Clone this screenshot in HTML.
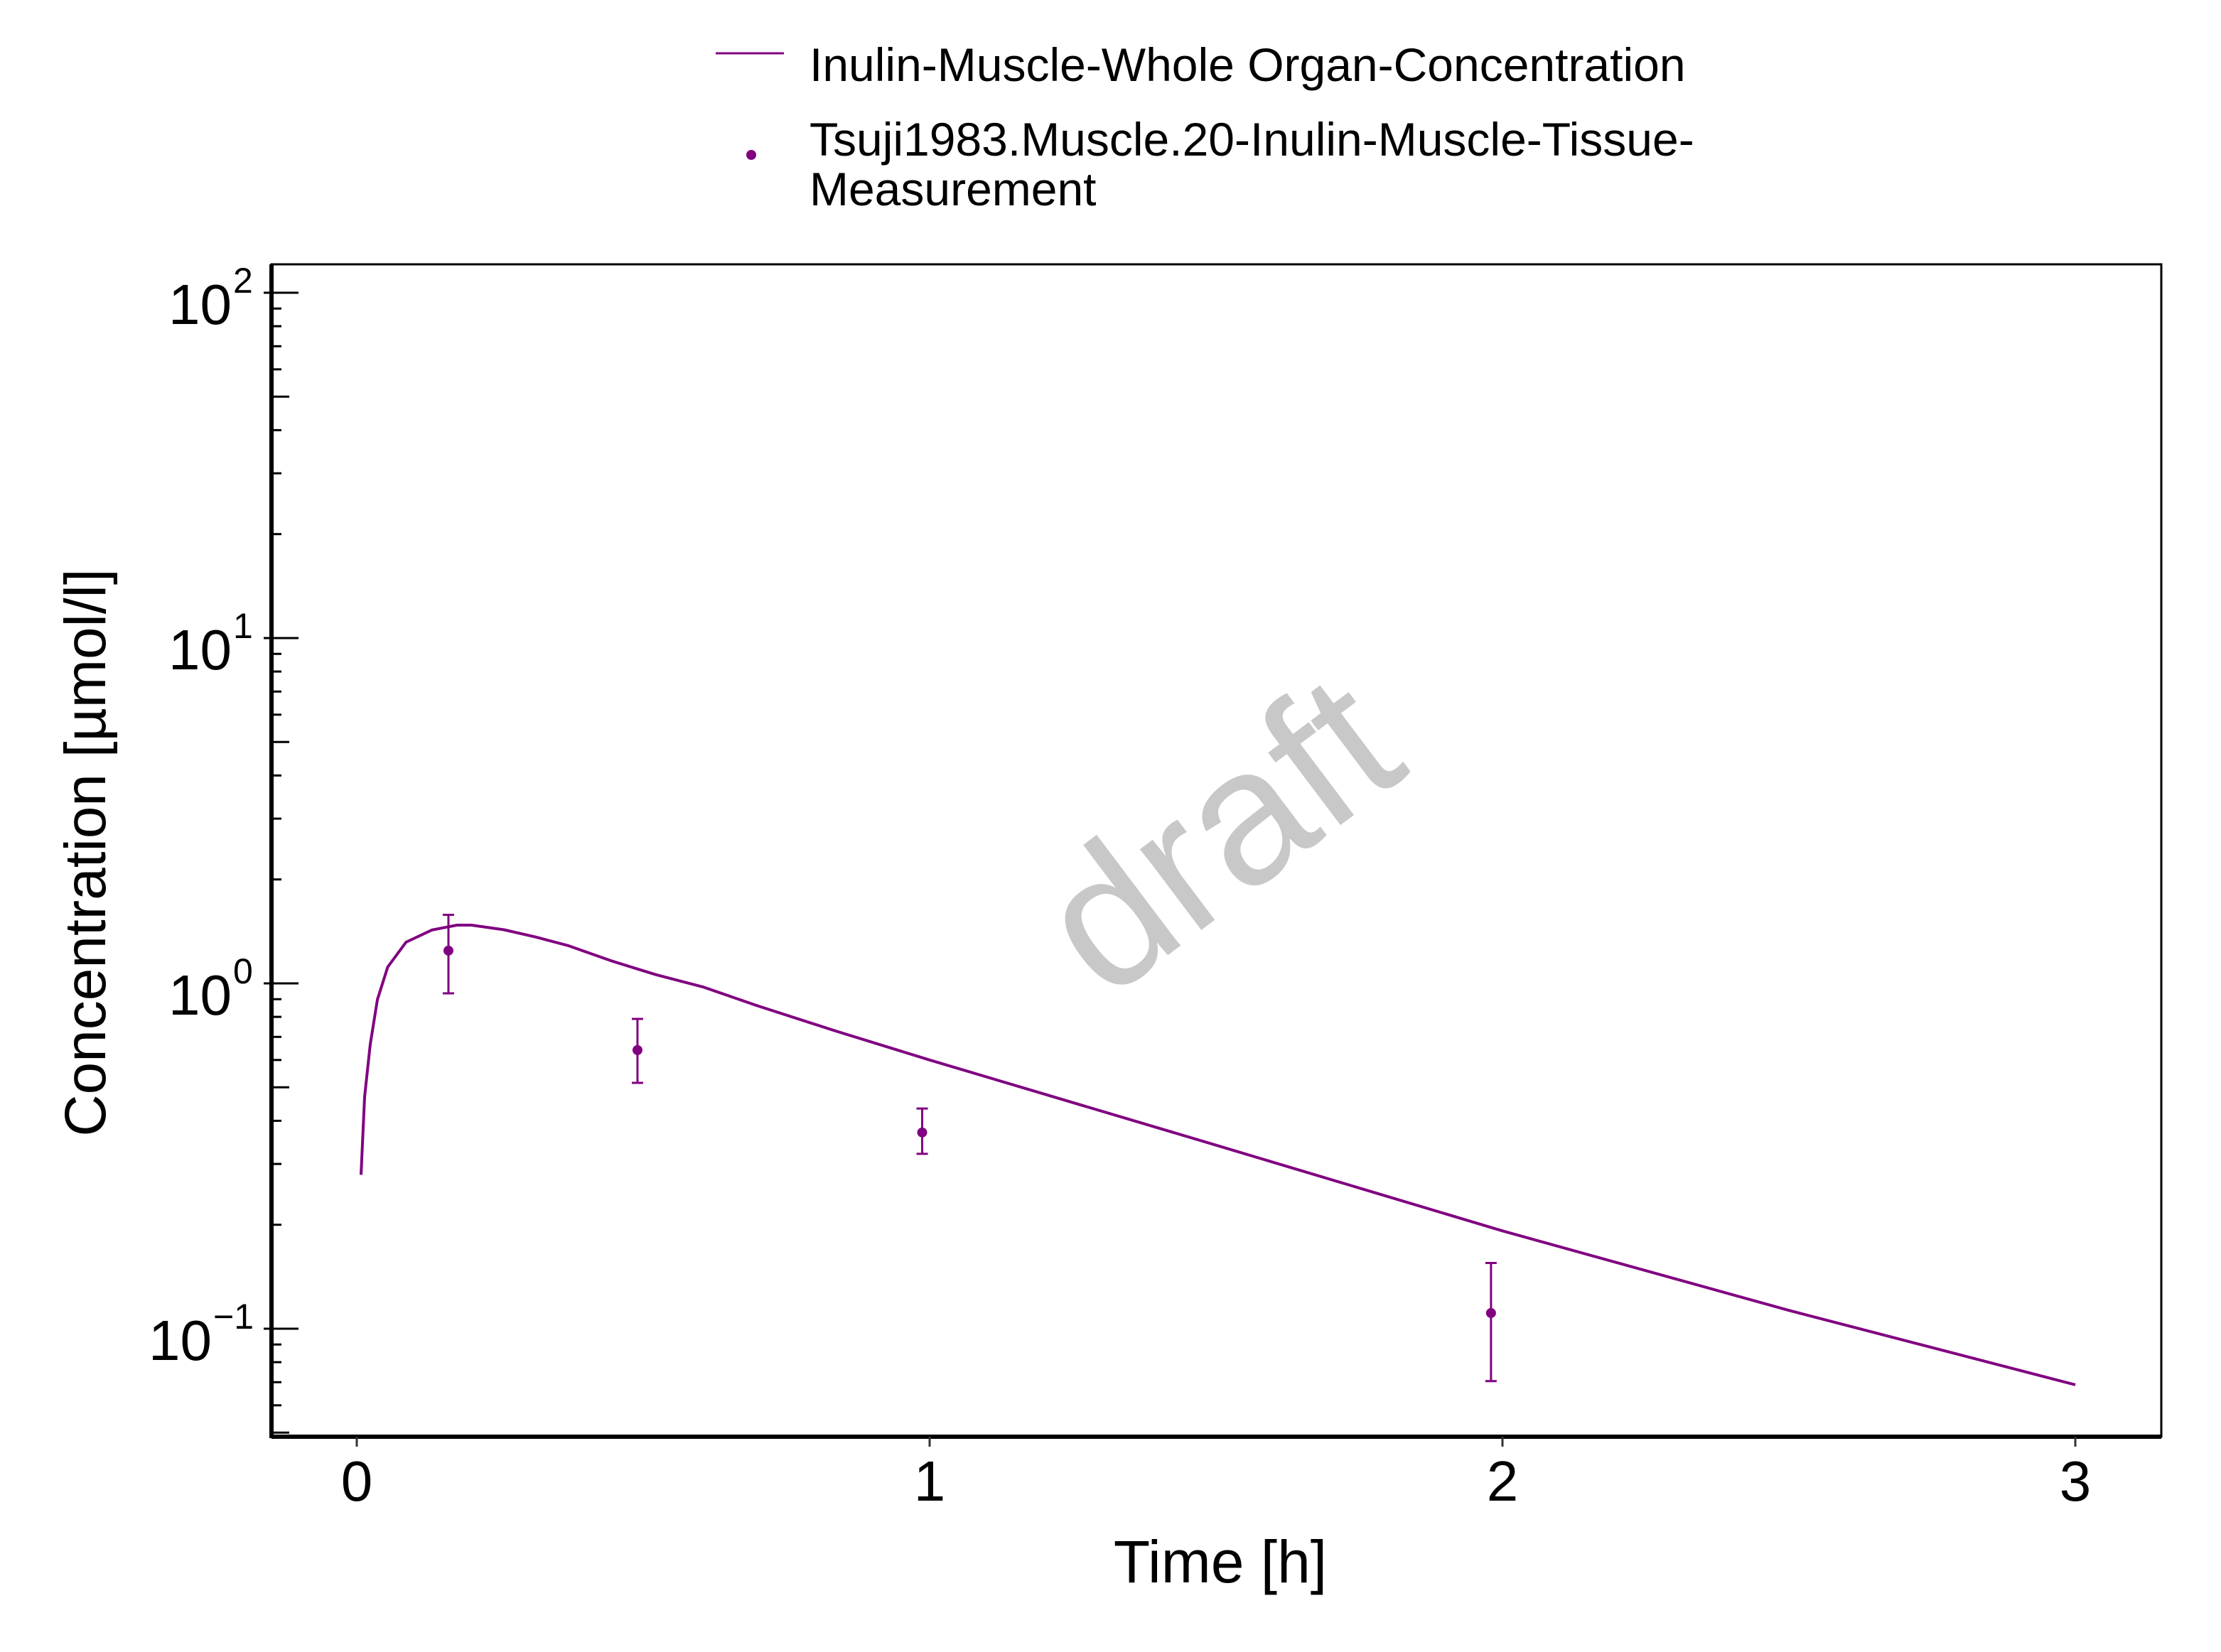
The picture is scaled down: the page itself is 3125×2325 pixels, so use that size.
<!DOCTYPE html>
<html><head><meta charset="utf-8"><style>
html,body{margin:0;padding:0;background:#fff;}
svg{display:block;font-family:"Liberation Sans",sans-serif;}
</style></head><body>
<svg id="chart" width="3125" height="2325" viewBox="0 0 3125 2325" xmlns="http://www.w3.org/2000/svg">
<rect x="0" y="0" width="3125" height="2325" fill="#fff"/>
<text x="1735" y="1260" font-size="270" fill="#c8c8c8" text-anchor="middle" transform="rotate(-37 1735 1200)">draft</text>
<g id="plot"></g>
<g>
<line x1="1007" y1="75" x2="1103" y2="75" stroke="#800080" stroke-width="3"/>
<text x="1139" y="114" font-size="66">Inulin-Muscle-Whole Organ-Concentration</text>
<circle cx="1057" cy="218" r="7" fill="#800080"/>
<text x="1139" y="219" font-size="66">Tsuji1983.Muscle.20-Inulin-Muscle-Tissue-</text>
<text x="1139" y="289" font-size="66">Measurement</text>
</g>
<text x="1717" y="2227" font-size="84" text-anchor="middle">Time [h]</text>
<text x="0" y="0" font-size="82" text-anchor="middle" transform="translate(148 1200) rotate(-90)">Concentration [µmol/l]</text>
</svg>
<script>
const simTime = [0.0074,0.0136,0.0235,0.036,0.054,0.086,0.131,0.175,0.2,0.257,0.314,0.37,0.446,0.522,0.604,0.698,0.836,1.0,1.5,2.0,2.5,3.0];
const simConc = [0.279,0.469,0.665,0.897,1.115,1.316,1.427,1.475,1.475,1.43,1.36,1.285,1.16,1.06,0.977,0.863,0.728,0.60,0.34,0.192,0.113,0.0688];
const obsTime = [0.16,0.49,0.987,1.98];
const obsConc = [1.244,0.641,0.370,0.111];
const obsUpper = [1.58,0.789,0.434,0.155];
const obsLower = [0.936,0.515,0.321,0.0705];
const xTicks = [0,1,2,3];
const yTickExp = [-1,0,1,2];

const NS='http://www.w3.org/2000/svg';
const L=382,R=3041,T=372,B=2022;
const X0=502,XU=806;
const Y0=1384,DEC=486;
const xs=v=>X0+v*XU;
const ys=v=>Y0-Math.log10(v)*DEC;
const plot=document.getElementById('plot');
function mk(tag,attrs,parent){const e=document.createElementNS(NS,tag);for(const k in attrs)e.setAttribute(k,attrs[k]);(parent||plot).appendChild(e);return e;}

let fr=mk('rect',{x:L,y:T,width:R-L,height:B-T,fill:'none',stroke:'#000','stroke-width':3});


let la=mk('line',{x1:L,y1:T,x2:L,y2:B+2,stroke:'#000','stroke-width':6});


let ba=mk('line',{x1:L,y1:B,x2:R,y2:B,stroke:'#000','stroke-width':6});



for(let e=-2;e<=2;e++){
  for(let m=1;m<=9;m++){
    const v=m*Math.pow(10,e);const y=ys(v);
    if(y<T||y>B)continue;
    const len=m===1?38:(m===5?25:14);
    const t=mk('line',{x1:m===1?L-11:L,y1:y,x2:L+len,y2:y,stroke:'#000','stroke-width':3});
    
    
  }
}
yTickExp.forEach(e=>{
  const y=ys(Math.pow(10,e));
  const g=mk('text',{x:e<0?298:326,y:y+44,'font-size':80,'text-anchor':'end'});
  
  
  g.textContent='10';
  const s=mk('text',{x:e<0?300:328,y:y,'font-size':50,'text-anchor':'start'});
  
  
  s.textContent=e<0?'\u2212'+Math.abs(e):String(e);
});
xTicks.forEach(v=>{
  const x=xs(v);
  const t=mk('line',{x1:x,y1:B,x2:x,y2:B+14,stroke:'#333','stroke-width':3});
  
  
  const l=mk('text',{x:x,y:2112,'font-size':80,'text-anchor':'middle'});
  
  
  l.textContent=String(v);
});
const pts=simTime.map((t,i)=>xs(t).toFixed(1)+','+ys(simConc[i]).toFixed(1)).join(' ');
const pl=mk('polyline',{points:pts,fill:'none',stroke:'#800080','stroke-width':4,'stroke-linejoin':'round'});


obsTime.forEach((t,i)=>{
  const x=xs(t);
  const g=mk('g',{});
  
  
  const yu=ys(obsUpper[i]),yl=ys(obsLower[i]);
  mk('line',{x1:x,y1:yu,x2:x,y2:yl,stroke:'#800080','stroke-width':3},g);
  mk('line',{x1:x-8,y1:yu,x2:x+8,y2:yu,stroke:'#800080','stroke-width':3},g);
  mk('line',{x1:x-8,y1:yl,x2:x+8,y2:yl,stroke:'#800080','stroke-width':3},g);
  mk('circle',{cx:x,cy:ys(obsConc[i]),r:7,fill:'#800080'},g);
});
</script>
</body></html>
